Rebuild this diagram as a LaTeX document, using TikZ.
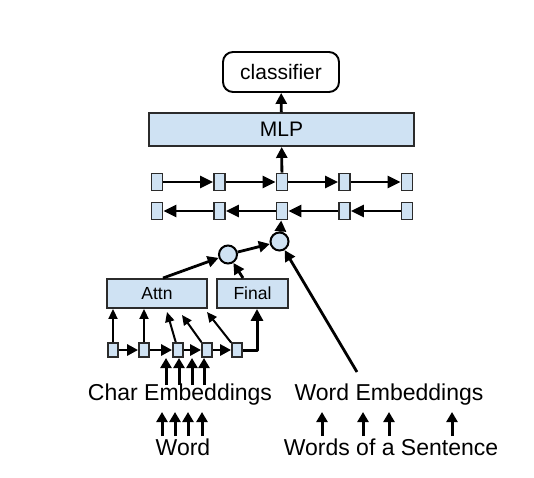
\documentclass[tikz,border=0pt]{standalone}
\usepackage{fontspec}
\setmainfont{Liberation Sans}
\usetikzlibrary{arrows.meta}

\definecolor{cellblue}{HTML}{CFE2F3}
\definecolor{edgegray}{HTML}{2B2B2B}

\begin{document}
\begin{tikzpicture}[x=1pt, y=-1pt,
    cell/.style={draw=edgegray, fill=cellblue, line width=1.8pt, inner sep=0pt,
        minimum width=11pt, minimum height=17pt},
    charcell/.style={cell, minimum width=10pt, minimum height=14pt},
    box/.style={draw=edgegray, fill=cellblue, line width=1.9pt, inner sep=0pt,
        font=\fontsize{17.5}{20}\selectfont},
    comb/.style={circle, draw=black, fill=cellblue, line width=2pt, inner sep=0pt,
        minimum size=18pt},
    arr/.style={line width=2.8pt, -{Triangle[length=11pt,width=11pt]}},
    lstm/.style={line width=2.8pt, -{Triangle[length=13pt,width=12pt]}},
    thinarr/.style={line width=2pt, -{Triangle[length=10pt,width=9pt]}},
    uparr/.style={line width=3pt, -{Triangle[length=10pt,width=11pt]}},
    label/.style={anchor=base, inner sep=0pt, font=\fontsize{23}{26}\selectfont}]

    \useasboundingbox (0,0) rectangle (534,477);

    % top
    \node[draw=black, fill=white, line width=1.9pt, rounded corners=10pt,
        minimum width=116pt, minimum height=40pt, inner sep=0pt,
        font=\fontsize{21}{24}\selectfont] (clf) at (281,72) {classifier};
    \node[box, minimum width=265pt, minimum height=33pt,
        font=\fontsize{21}{24}\selectfont] (mlp) at (281.5,129.5) {MLP};
    \draw[arr] (mlp) -- (clf);

    % bi-lstm over words
    \foreach \i/\x in {1/157, 2/219.5, 3/282, 4/344.5, 5/407} {
        \node[cell] (f\i) at (\x,182) {};
        \node[cell] (b\i) at (\x,211) {};
    }
    \foreach \i/\j in {1/2, 2/3, 3/4, 4/5} {
        \draw[lstm] (f\i) -- (f\j);
        \draw[lstm] (b\j) -- (b\i);
    }
    \draw[arr] (f3) -- (mlp);

    % combination
    \node[comb] (comb1) at (228,254.5) {};
    \node[comb] (comb2) at (279.5,241.5) {};
    \draw[arr] (comb2) -- (b3);
    \draw[arr] (comb1) -- (comb2);

    % char model
    \node[box, minimum width=100pt, minimum height=29pt] (attn) at (157,293.5) {Attn};
    \node[box, minimum width=71pt, minimum height=29pt] (final) at (252.5,293.5) {Final};
    \draw[arr] ([xshift=6pt]attn.north) -- (comb1);
    \draw[arr] ([xshift=-9.5pt]final.north) -- (comb1);

    \foreach \i/\x in {1/113, 2/144, 3/178, 4/207, 5/237}
        \node[charcell] (c\i) at (\x,350) {};
    \foreach \i/\j in {1/2, 2/3, 3/4, 4/5}
        \draw[arr] (c\i) -- (c\j);

    \coordinate (a3) at (167,312);
    \coordinate (a4) at (182,315);
    \coordinate (a5) at (207,312);
    \draw[thinarr] (c1) -- (c1 |- attn.south);
    \draw[thinarr] (c2) -- (c2 |- attn.south);
    \draw[thinarr] (c3) -- (a3);
    \draw[thinarr] (c4) -- (a4);
    \draw[thinarr] (c5) -- (a5);
    \draw[line width=3pt, -{Triangle[length=12pt,width=12pt]}, line join=round]
        (c5.east) -| ([xshift=4.5pt]final.south);

    % inputs
    \node[label] (charemb) at (180,400) {Char Embeddings};
    \node[label] (wordemb) at (389,400) {Word Embeddings};
    \node[label] (word) at (183,455) {Word};
    \node[label] (sent) at (391,455) {Words of a Sentence};

    \coordinate (wordtip) at (357,372);
    \draw[arr] (wordtip) -- (comb2);

    \foreach \x in {166, 179, 192, 204}
        \draw[uparr] (\x,385) -- (\x,358);
    \foreach \x in {162, 175, 188, 202, 322, 363, 389, 452}
        \draw[uparr] (\x,436) -- (\x,412);
\end{tikzpicture}
\end{document}
